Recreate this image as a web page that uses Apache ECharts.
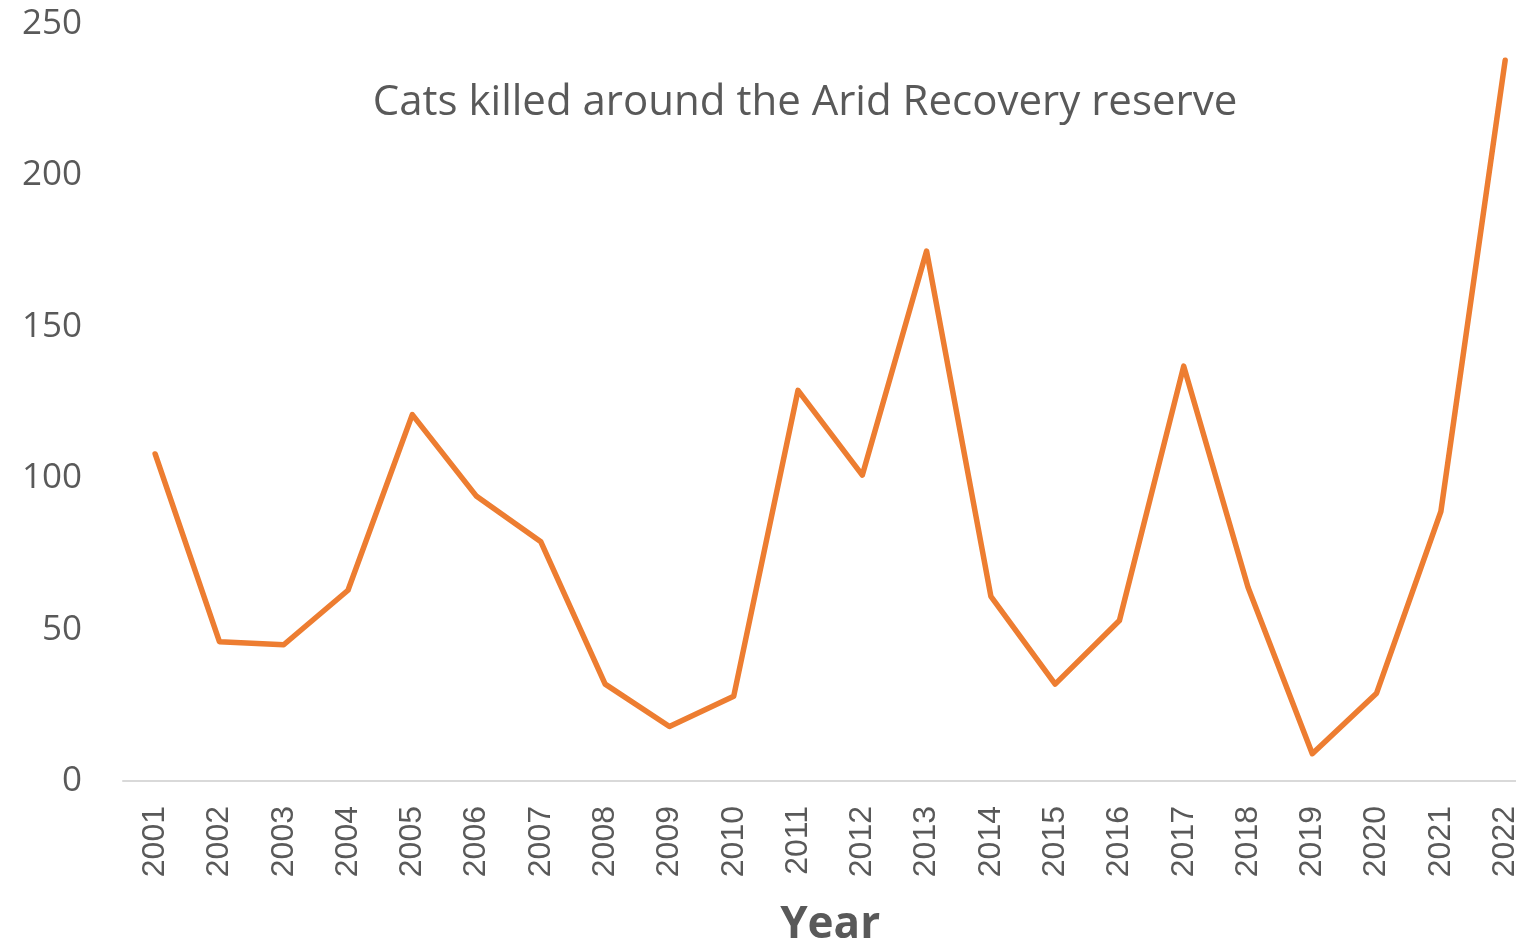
<!DOCTYPE html>
<html><head><meta charset="utf-8">
<script src="https://cdn.jsdelivr.net/npm/echarts@6/dist/echarts.min.js"></script>
<style>html,body{margin:0;padding:0;background:#fff}#c{width:1516px;height:943px}</style>
</head><body><div id="c"></div>
<script>
const years = ['2001','2002','2003','2004','2005','2006','2007','2008','2009','2010','2011','2012','2013','2014','2015','2016','2017','2018','2019','2020','2021','2022'];
const catsKilled = [108,46,45,63,121,94,79,32,18,28,129,101,175,61,32,53,137,64,9,29,89,238];
const yTicks = {min:0, max:250, interval:50};
const titleText = 'Cats killed around the Arid Recovery reserve';
const xName = 'Year';

const chart = echarts.init(document.getElementById('c'));
chart.setOption({
  animation:false,
  backgroundColor:'#fff',
  title:{text:titleText,left:800,top:77,textAlign:'center',
    textStyle:{fontFamily:'Open Sans',fontSize:42,fontWeight:'normal',color:'#595959'}},
  grid:{left:123,top:24,bottom:162,right:-21.3,containLabel:false,outerBoundsMode:'none'},
  xAxis:{type:'category',data:years,boundaryGap:true,
    name:xName,nameLocation:'middle',nameGap:122,nameMoveOverlap:false,
    nameTextStyle:{fontFamily:'Open Sans',fontWeight:'bold',fontSize:44,color:'#595959'},
    axisLine:{lineStyle:{color:'#D9D9D9',width:2}},
    axisTick:{show:false},
    axisLabel:{rotate:90,margin:25,fontFamily:'Liberation Sans',fontSize:32,color:'#595959',interval:0}},
  yAxis:{type:'value',min:yTicks.min,max:yTicks.max,interval:yTicks.interval,
    axisLine:{show:false},axisTick:{show:false},splitLine:{show:false},
    axisLabel:{margin:41,fontFamily:'Open Sans',fontSize:35,color:'#595959'}},
  series:[{type:'line',data:catsKilled,symbol:'none',
    lineStyle:{color:'#ED7D31',width:5.5,cap:'round',join:'round'}}]
});
</script></body></html>
